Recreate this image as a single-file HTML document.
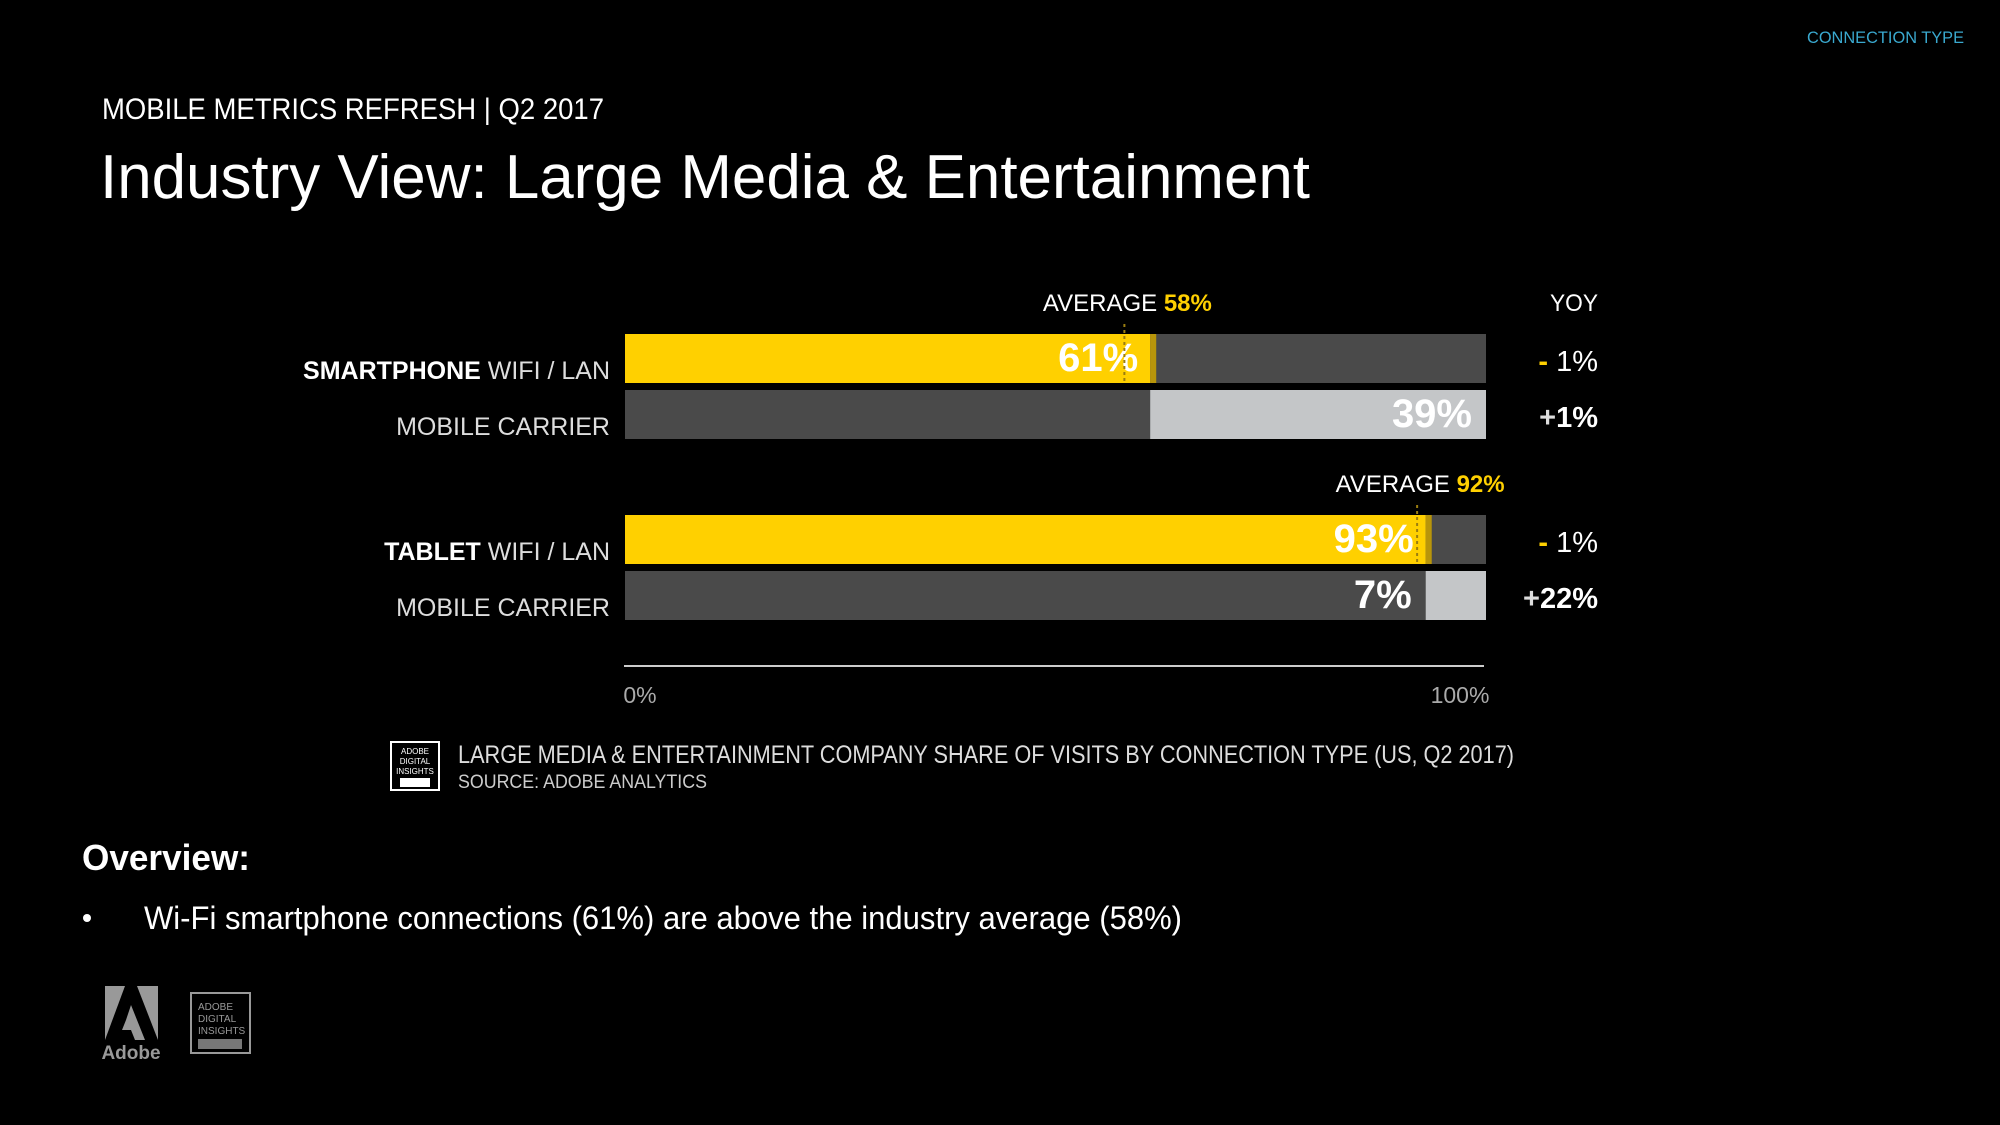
<!DOCTYPE html>
<html><head><meta charset="utf-8"><style>
html,body{margin:0;padding:0;background:#000;}
svg{display:block;}
text{font-family:"Liberation Sans",sans-serif;}
</style></head><body>
<svg id="chart" width="2000" height="1125" viewBox="0 0 2000 1125">
<rect width="2000" height="1125" fill="#000"/>
<text x="1964" y="43" font-size="17" fill="#3aa9cf" text-anchor="end" textLength="157" lengthAdjust="spacingAndGlyphs">CONNECTION TYPE</text>
<text x="102" y="119" font-size="30" fill="#fff" textLength="502" lengthAdjust="spacingAndGlyphs">MOBILE METRICS REFRESH | Q2 2017</text>
<text x="100" y="198" font-size="62" fill="#fff" textLength="1210" lengthAdjust="spacingAndGlyphs">Industry View: Large Media &amp; Entertainment</text>
<g id="bars"></g>
<text x="1550" y="311" font-size="24" fill="#fff" textLength="48" lengthAdjust="spacingAndGlyphs">YOY</text>
<line x1="624" y1="666" x2="1484" y2="666" stroke="#ccc" stroke-width="2"/>
<g id="caption">
<rect x="391" y="742" width="48" height="48" fill="none" stroke="#fff" stroke-width="2"/>
<text x="415" y="754" font-size="8" fill="#fff" text-anchor="middle">ADOBE</text>
<text x="415" y="764" font-size="8" fill="#fff" text-anchor="middle">DIGITAL</text>
<text x="415" y="774" font-size="8" fill="#fff" text-anchor="middle">INSIGHTS</text>
<rect x="400" y="778" width="30" height="9" fill="#fff"/>
<text x="458" y="763" font-size="25" fill="#ddd" textLength="1056" lengthAdjust="spacingAndGlyphs">LARGE MEDIA &amp; ENTERTAINMENT COMPANY SHARE OF VISITS BY CONNECTION TYPE (US, Q2 2017)</text>
<text x="458" y="788" font-size="19" fill="#ccc" textLength="249" lengthAdjust="spacingAndGlyphs">SOURCE: ADOBE ANALYTICS</text>
</g>
<text x="82" y="870" font-size="36" font-weight="bold" fill="#fff" textLength="168" lengthAdjust="spacingAndGlyphs">Overview:</text>
<circle cx="87" cy="918" r="4" fill="#fff"/>
<text x="144" y="929" font-size="32" fill="#fff" textLength="1038" lengthAdjust="spacingAndGlyphs">Wi-Fi smartphone connections (61%) are above the industry average (58%)</text>
<g>
<polygon points="105,986 125,986 105,1040" fill="#999"/>
<polygon points="137,986 158,986 158,1040" fill="#999"/>
<polygon points="131,1005 145,1040 135,1040 131,1030 122,1030 126,1020" fill="#999"/>
<text x="131" y="1059" font-size="19" font-weight="bold" fill="#999" text-anchor="middle">Adobe</text>
</g>
<g>
<rect x="191" y="993" width="59" height="60" fill="none" stroke="#999" stroke-width="2"/>
<text x="198" y="1010" font-size="10" fill="#999">ADOBE</text>
<text x="198" y="1022" font-size="10" fill="#999">DIGITAL</text>
<text x="198" y="1034" font-size="10" fill="#999">INSIGHTS</text>
<rect x="198" y="1039" width="44" height="10" fill="#777"/>
</g>
</svg>
<script>
const rowCats = ["WIFI / LAN","MOBILE CARRIER","WIFI / LAN","MOBILE CARRIER"];
const groupNames = ["SMARTPHONE","","TABLET",""];
const shares = [61,39,93,7];
const yoyValues = ["-1%","+1%","-1%","+22%"];
const averages = [58,92];
const tickLabels = ["0%","100%"];
const tickValues = [0,100];

const NS="http://www.w3.org/2000/svg";
const X0=625, X1=1486;
const xs=v=>X0+(X1-X0)*v/100;
const rowY=[334,390,515,571], BH=49;
const g=document.getElementById('bars');
function mk(t,a){const e=document.createElementNS(NS,t);for(const k in a)e.setAttribute(k,a[k]);g.appendChild(e);return e;}
shares.forEach((v,i)=>{
  const y=rowY[i], wifi=i%2===0;
  const bg=mk('rect',{x:X0,y:y,width:X1-X0,height:BH,fill:'#4a4a4a'});
  
  
  let b;
  if(wifi){
    b=mk('rect',{x:X0,y:y,width:xs(v)-X0,height:BH,fill:'#ffd000'});
    const edge=mk('rect',{x:xs(v),y:y,width:6,height:BH,fill:'#b8950a'});
    
    
  } else {
    b=mk('rect',{x:xs(100-v),y:y,width:xs(v)-X0,height:BH,fill:'#c4c6c8'});
  }
  
  
  const lx = wifi ? xs(v)-12 : (v<20 ? xs(100-v)-14 : X1-14);
  const lt=mk('text',{x:lx,y:y+37,'font-size':40,'font-weight':'bold',fill:'#fff','text-anchor':'end'});
  lt.textContent=v+'%';
  
  
  const cl=mk('text',{x:610,y:y+45,'font-size':25,fill:'#ddd','text-anchor':'end'});
  if(groupNames[i]){const s=document.createElementNS(NS,'tspan');s.setAttribute('font-weight','bold');s.setAttribute('fill','#fff');s.textContent=groupNames[i]+' ';cl.appendChild(s);}
  cl.appendChild(document.createTextNode(rowCats[i]));
  
  
  const yv=yoyValues[i];
  const yt=mk('text',{x:1598,y:y+37,'font-size':29,fill:'#fff','text-anchor':'end'});
  const sg=document.createElementNS(NS,'tspan');
  sg.setAttribute('fill',yv[0]==='-'?'#ffd000':'#ddd');
  sg.setAttribute('font-weight','bold');
  sg.textContent=yv[0]==='-'?'- ':'+';
  yt.appendChild(sg);
  const nm=document.createElementNS(NS,'tspan');
  if(yv[0]==='+'){nm.setAttribute('font-weight','bold');}
  nm.textContent=yv.slice(1);
  yt.appendChild(nm);
  
  
});
averages.forEach((a,j)=>{
  const y=rowY[j*2];
  const ln=mk('line',{x1:xs(a),y1:y-10,x2:xs(a),y2:y+BH,stroke:'#9a7d10','stroke-width':2,'stroke-dasharray':'3,3'});
  
  
  const t=mk('text',{x:xs(a)+3,y:y-23,'font-size':24,fill:'#fff','text-anchor':'middle'});
  t.textContent='AVERAGE ';
  const s=document.createElementNS(NS,'tspan');s.setAttribute('fill','#ffd000');s.setAttribute('font-weight','bold');s.textContent=a+'%';t.appendChild(s);
  
  
});
tickValues.forEach((v,i)=>{
  const t=mk('text',{x:xs(v)+(i?-26:15),y:703,'font-size':23,fill:'#aaa','text-anchor':'middle'});
  t.textContent=tickLabels[i];
  
  
});
</script>
</body></html>
